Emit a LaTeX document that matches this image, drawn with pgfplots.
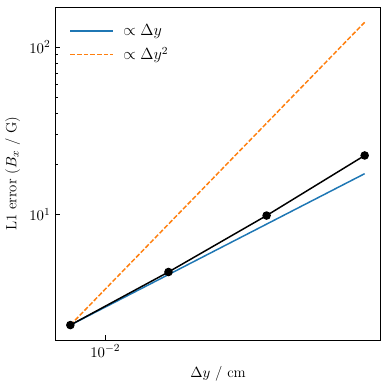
\documentclass[border=0pt]{standalone}
\usepackage{pgfplots}
\pgfplotsset{compat=1.18}
\usetikzlibrary{calc}
\definecolor{tabblue}{HTML}{1F77B4}
\definecolor{taborange}{HTML}{FF7F0E}
\begin{document}
\begin{tikzpicture}
\begin{axis}[
    scale only axis,
    width=241.7pt, height=247pt,
    xmode=log, ymode=log,
    xmin=0.00702, xmax=0.0701,
    ymin=1.79, ymax=173,
    tick align=inside,
    xtick pos=bottom, ytick pos=left,
    major tick length=3.5pt, minor tick length=2pt,
    axis line style={line width=0.8pt},
    every tick/.style={black, line width=0.6pt},
    xtick={0.01}, ytick={10,100},
    tick label style={font=\fontsize{11}{13}\selectfont},
    label style={font=\fontsize{11}{13}\selectfont},
    xlabel={$\Delta y$ / cm},
    ylabel={L1 error ($B_x$ / G)},
    legend style={at={(0.03,0.965)}, anchor=north west, draw=none, fill=none,
        font=\fontsize{11.5}{13}\selectfont, row sep=3pt,
        nodes={inner xsep=7pt}},
    legend cell align=left,
    legend image code/.code={\draw[mark repeat=2,mark phase=2,#1] (0pt,0pt) -- (16pt,0pt) -- (32pt,0pt);},
]
\addplot[color=tabblue, line width=1.1pt] coordinates {(0.0078125,2.2) (0.0625,17.6)};
\addlegendentry{$\propto \Delta y$}
\addplot[color=taborange, line width=1.1pt, dash pattern=on 3.5pt off 1.5pt] coordinates {(0.0078125,2.2) (0.0625,140.8)};
\addlegendentry{$\propto \Delta y^2$}
\addplot[black, line width=1.1pt, mark=*, mark size=2.6pt, forget plot] coordinates {
    (0.0078125,2.2) (0.015625,4.56) (0.03125,9.9) (0.0625,22.6)};
\end{axis}
\path ($(current axis.south west)+(-41pt,-36pt)$) rectangle ($(current axis.north east)+(6pt,5.4pt)$);
\end{tikzpicture}
\end{document}
